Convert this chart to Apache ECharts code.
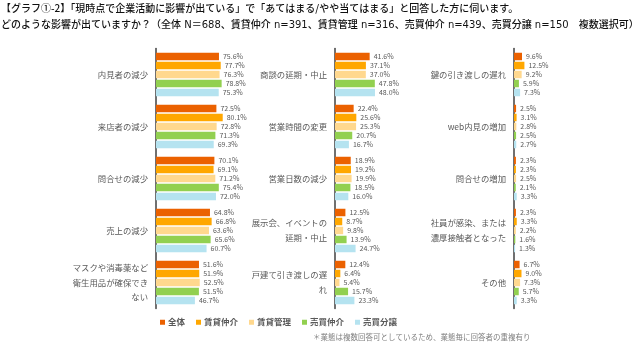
<!DOCTYPE html>
<html>
<head>
<meta charset="utf-8">
<script src="https://cdn.jsdelivr.net/npm/echarts@6/dist/echarts.min.js"></script>
<style>
  html, body { margin: 0; padding: 0; background: #fff; }
  #chart { width: 640px; height: 347px; }
</style>
</head>
<body>
<div id="chart"></div>
<script>
// Business types (legend entries)
const seriesNames = ['全体', '賃貸仲介', '賃貸管理', '売買仲介', '売買分譲'];

// Left panel
const p1Categories = ['内見者の減少', '来店者の減少', '問合せの減少', '売上の減少', 'マスクや消毒薬など\n衛生用品が確保でき\nない'];
const p1All        = [75.6, 72.5, 70.1, 64.8, 51.6];
const p1RentBroker = [77.7, 80.1, 69.1, 66.8, 51.9];
const p1RentMgmt   = [76.3, 72.8, 71.2, 63.6, 52.5];
const p1SaleBroker = [78.8, 71.3, 75.4, 65.6, 51.5];
const p1SaleDev    = [75.3, 69.3, 72.0, 60.7, 46.7];

// Middle panel
const p2Categories = ['商談の延期・中止', '営業時間の変更', '営業日数の減少', '展示会、イベントの\n延期・中止', '戸建て引き渡しの遅\nれ'];
const p2All        = [41.6, 22.4, 18.9, 12.5, 12.4];
const p2RentBroker = [37.1, 25.6, 19.2, 8.7, 6.4];
const p2RentMgmt   = [37.0, 25.3, 19.9, 9.8, 5.4];
const p2SaleBroker = [47.8, 20.7, 18.5, 13.9, 15.7];
const p2SaleDev    = [48.0, 16.7, 16.0, 24.7, 23.3];

// Right panel
const p3Categories = ['鍵の引き渡しの遅れ', 'web内見の増加', '問合せの増加', '社員が感染、または\n濃厚接触者となった', 'その他'];
const p3All        = [9.6, 2.5, 2.3, 2.3, 6.7];
const p3RentBroker = [12.5, 3.1, 2.3, 3.3, 9.0];
const p3RentMgmt   = [9.2, 2.8, 2.5, 2.2, 7.3];
const p3SaleBroker = [5.9, 2.5, 2.1, 1.6, 5.7];
const p3SaleDev    = [7.3, 2.7, 3.3, 1.3, 3.3];

const titleLine1 = '【グラフ①-2】「現時点で企業活動に影響が出ている」で「あてはまる/やや当てはまる」と回答した方に伺います。';
const titleLine2 = 'どのような影響が出ていますか？（全体 N＝688、賃貸仲介 n=391、賃貸管理 n=316、売買仲介 n=439、売買分譲 n=150　複数選択可）';
const footnote = '＊業態は複数回答可としているため、業態毎に回答者の重複有り';

const FONT = '"Noto Sans CJK JP", "Noto Sans", sans-serif';
// Wider Latin glyphs for the sample-size line, CJK falls back to Noto
const FONT_WIDE_LATIN = '"DejaVu Sans", "Noto Sans CJK JP", sans-serif';
const palette = ['#EB6100', '#FFA700', '#FFD88E', '#92D050', '#B5E3F0'];

const panels = [
  { cats: p1Categories, data: [p1All, p1RentBroker, p1RentMgmt, p1SaleBroker, p1SaleDev], left: 156 },
  { cats: p2Categories, data: [p2All, p2RentBroker, p2RentMgmt, p2SaleBroker, p2SaleDev], left: 335 },
  { cats: p3Categories, data: [p3All, p3RentBroker, p3RentMgmt, p3SaleBroker, p3SaleDev], left: 514 }
];

const grids = [], xAxes = [], yAxes = [], series = [];
panels.forEach((p, i) => {
  grids.push({ left: p.left, top: 48.5, width: 83.3, height: 260, containLabel: false });
  xAxes.push({
    type: 'value', gridIndex: i, min: 0, max: 100, show: false
  });
  yAxes.push({
    type: 'category', gridIndex: i, inverse: true, data: p.cats,
    axisLine: { show: true, lineStyle: { color: '#404040', width: 1.5 } },
    axisTick: { show: false },
    splitLine: { show: false },
    axisLabel: {
      interval: 0, margin: 8, fontSize: 8.4, lineHeight: 14.5,
      color: '#595959', fontFamily: FONT, align: 'right'
    }
  });
  p.data.forEach((vals, s) => {
    series.push({
      name: seriesNames[s], type: 'bar', xAxisIndex: i, yAxisIndex: i,
      data: vals, barWidth: 7.5, barGap: '20%',
      itemStyle: { color: palette[s] },
      label: {
        show: true, position: 'right', distance: 4,
        fontSize: 7, color: '#595959', fontFamily: FONT,
        formatter: d => d.value.toFixed(1) + '%'
      },
      animation: false
    });
  });
});

const chart = echarts.init(document.getElementById('chart'), null, { renderer: 'canvas' });
chart.setOption({
  backgroundColor: '#ffffff',
  animation: false,
  grid: grids,
  xAxis: xAxes,
  yAxis: yAxes,
  series: series,
  legend: {
    data: seriesNames, left: 155, top: 313,
    icon: 'rect', itemWidth: 5, itemHeight: 5, itemGap: 11,
    textStyle: { fontSize: 8.5, color: '#595959', fontWeight: 'bold', fontFamily: FONT, padding: [0, 0, 0, -2] }
  },
  graphic: [
    {
      type: 'text', left: 1, top: 3,
      style: {
        text: titleLine1, fontSize: 10, fill: '#111', fontFamily: FONT, fontWeight: 500
      }
    },
    {
      type: 'text', left: 1, top: 20,
      style: {
        text: titleLine2, fontSize: 10, fill: '#111', fontFamily: FONT_WIDE_LATIN, fontWeight: 500
      }
    },
    {
      type: 'text', left: 313, top: 333,
      style: {
        text: footnote, fontSize: 7.5, fill: '#7f7f7f', fontFamily: FONT
      }
    }
  ]
});
</script>
</body>
</html>
